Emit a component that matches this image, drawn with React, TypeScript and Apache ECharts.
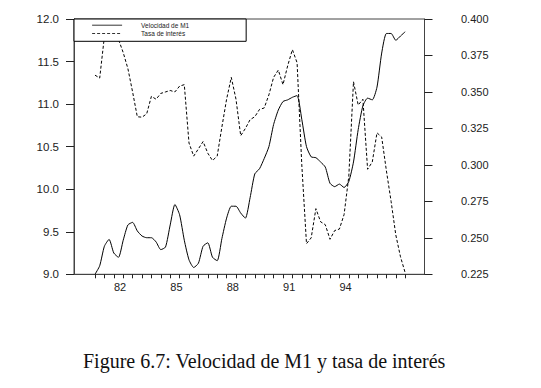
import React, { useEffect, useRef } from "react";
import * as echarts from "echarts";

// Quarterly observations, first quarter plotted at year 80.67, step 0.25 year
const quarterStart = 80.67;
const quarterStep = 0.25;

const velocidadM1 = [
  9.0, 9.1, 9.33, 9.41, 9.25, 9.2, 9.4, 9.58, 9.61, 9.51,
  9.45, 9.43, 9.43, 9.38, 9.29, 9.32, 9.58, 9.82, 9.7, 9.4,
  9.17, 9.08, 9.13, 9.33, 9.37, 9.2, 9.16, 9.42, 9.66, 9.8,
  9.8, 9.72, 9.66, 9.9, 10.18, 10.24, 10.36, 10.5, 10.76, 10.93,
  11.03, 11.05, 11.08, 11.1, 10.82, 10.5, 10.38, 10.37, 10.32, 10.26,
  10.07, 10.03, 10.06, 10.02, 10.09, 10.32, 10.7, 10.98, 11.07, 11.05,
  11.2, 11.6, 11.83, 11.83, 11.75, 11.8, 11.85,
];

const tasaInteres = [
  0.3615, 0.3595, 0.388, 0.397, 0.398, 0.386, 0.377, 0.366, 0.35, 0.333,
  0.3327, 0.335, 0.347, 0.345, 0.349, 0.35, 0.351, 0.35, 0.354, 0.355,
  0.315, 0.306, 0.311, 0.316, 0.308, 0.303, 0.306, 0.326, 0.345, 0.36,
  0.345, 0.32, 0.325, 0.331, 0.333, 0.338, 0.339, 0.348, 0.36, 0.365,
  0.355, 0.368, 0.379, 0.37, 0.3, 0.246, 0.25, 0.27, 0.261, 0.259,
  0.249, 0.255, 0.256, 0.266, 0.292, 0.357, 0.341, 0.345, 0.297, 0.302,
  0.322, 0.319, 0.296, 0.275, 0.252, 0.237, 0.226,
];

const xTickLabels = [82, 85, 88, 91, 94];
const seriesNames = ["Velocidad de M1", "Tasa de interés"];
const caption = "Figure 6.7: Velocidad de M1 y tasa de interés";

export default function App() {
  const ref = useRef<HTMLDivElement>(null);

  useEffect(() => {
    if (!ref.current) return;
    const chart = echarts.init(ref.current, undefined, { renderer: "svg" });

    const xs = velocidadM1.map((_, i) => quarterStart + quarterStep * i);
    const minorTicks: number[] = [];
    for (let t = quarterStart; t <= xs[xs.length - 1] + 1e-6; t += 0.5) minorTicks.push(t);

    const axisColor = "#444";
    const textColor = "#222";
    const font = "Liberation Sans";

    chart.setOption({
      animation: false,
      backgroundColor: "#fff",
      title: {
        text: caption,
        left: 83,
        top: 351,
        padding: 0,
        textStyle: {
          fontFamily: "Liberation Serif",
          fontSize: 20,
          fontWeight: "normal",
          color: "#111",
        },
      },
      grid: {
        left: 74,
        top: 19,
        width: 350.5,
        height: 255.3,
        show: true,
        borderColor: axisColor,
        borderWidth: 1,
      },
      legend: {
        orient: "vertical",
        left: 74,
        top: 19,
        data: seriesNames,
        itemWidth: 30,
        itemHeight: 6,
        itemGap: 1.3,
        padding: [2.7, 57, 4.3, 17.7],
        backgroundColor: "#fff",
        borderColor: "#000",
        borderWidth: 1,
        borderRadius: 0,
        itemStyle: { opacity: 0 },
        lineStyle: { width: 0.8 },
        textStyle: {
          fontFamily: font,
          fontSize: 6.5,
          color: textColor,
          padding: [0, 0, 0, 14],
        },
      },
      xAxis: {
        type: "value",
        min: 79.553,
        max: 98.197,
        splitLine: { show: false },
        axisLine: { show: true, onZero: false, lineStyle: { color: axisColor, width: 1 } },
        axisTick: {
          show: true,
          length: 4,
          inside: false,
          customValues: minorTicks,
          lineStyle: { color: "#222" },
        },
        axisLabel: {
          customValues: xTickLabels,
          formatter: (v: number) => String(Math.round(v)),
          fontFamily: font,
          fontSize: 11,
          color: textColor,
          margin: 7,
        },
      },
      yAxis: [
        {
          type: "value",
          position: "left",
          min: 9,
          max: 12,
          interval: 0.5,
          splitLine: { show: false },
          axisLine: { show: true, lineStyle: { color: axisColor } },
          axisTick: { show: true, length: 8, lineStyle: { color: "#222" } },
          axisLabel: {
            formatter: (v: number) => v.toFixed(1),
            fontFamily: font,
            fontSize: 11.5,
            color: textColor,
            margin: 15,
          },
        },
        {
          type: "value",
          position: "right",
          min: 0.225,
          max: 0.4,
          interval: 0.025,
          splitLine: { show: false },
          axisLine: { show: true, lineStyle: { color: axisColor } },
          axisTick: { show: true, length: 8, lineStyle: { color: "#222" } },
          axisLabel: {
            formatter: (v: number) => v.toFixed(3),
            fontFamily: font,
            fontSize: 11,
            color: textColor,
            margin: 36.5,
          },
        },
      ],
      series: [
        {
          name: seriesNames[0],
          type: "line",
          yAxisIndex: 0,
          symbol: "none",
          smooth: 0.2,
          data: xs.map((x, i) => [x, velocidadM1[i]]),
          lineStyle: { color: "#000", width: 1, type: "solid" },
          itemStyle: { color: "#000" },
        },
        {
          name: seriesNames[1],
          type: "line",
          yAxisIndex: 1,
          symbol: "none",
          data: xs.map((x, i) => [x, tasaInteres[i]]),
          lineStyle: { color: "#000", width: 1, type: [3, 2] },
          itemStyle: { color: "#000" },
        },
      ],
    });

    return () => chart.dispose();
  }, []);

  return (
    <div
      ref={ref}
      style={{ position: "fixed", left: 0, top: 0, width: 541, height: 388, background: "#fff" }}
    />
  );
}
